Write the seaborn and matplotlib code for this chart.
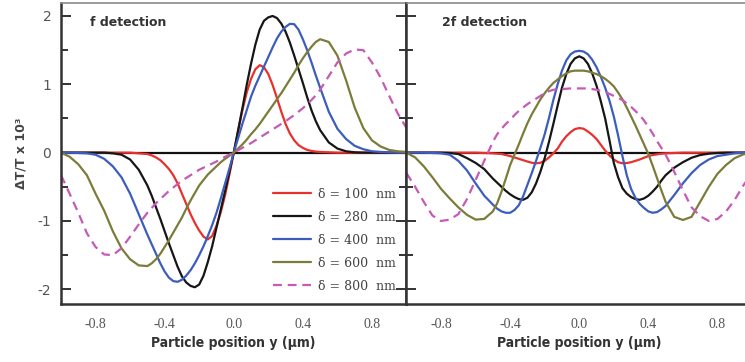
import matplotlib
matplotlib.use("Agg")
import matplotlib.pyplot as plt
from matplotlib.ticker import MultipleLocator, FormatStrFormatter
import pandas as pd
import seaborn as sns

# particle position y (µm): 0.05 steps in the wings, 0.025 steps in the centre
positions = [-1.000, -0.950, -0.900, -0.850, -0.800, -0.750, -0.700, -0.650, -0.600, -0.550,
             -0.500, -0.475, -0.450, -0.425, -0.400, -0.375, -0.350, -0.325, -0.300, -0.275,
             -0.250, -0.225, -0.200, -0.175, -0.150, -0.125, -0.100, -0.075, -0.050, -0.025,
             0.000,
             0.025, 0.050, 0.075, 0.100, 0.125, 0.150, 0.175, 0.200, 0.225, 0.250,
             0.275, 0.300, 0.325, 0.350, 0.375, 0.400, 0.425, 0.450, 0.475, 0.500,
             0.550, 0.600, 0.650, 0.700, 0.750, 0.800, 0.850, 0.900, 0.950, 1.000]

deltas = ["δ = 100  nm", "δ = 280  nm", "δ = 400  nm", "δ = 600  nm", "δ = 800  nm"]
colors = ["#e8302c", "#161616", "#3c5dbd", "#7c7c3a", "#c65ab4"]

# f detection, ΔT/T x 10³
f_100 = [0, 0, 0, 0, 0, 0, 0, 0, 0, -0.01,
         -0.02, -0.04, -0.07, -0.11, -0.17, -0.24, -0.33, -0.45, -0.60, -0.75,
         -0.90, -1.03, -1.14, -1.23, -1.27, -1.22, -1.07, -0.87, -0.62, -0.32,
         0.00,
         0.32, 0.62, 0.88, 1.08, 1.22, 1.28, 1.25, 1.15, 0.99, 0.80,
         0.60, 0.42, 0.28, 0.18, 0.11, 0.07, 0.04, 0.025, 0.015, 0.01,
         0.005, 0, 0, 0, 0, 0, 0, 0, 0, 0]
f_280 = [0, 0, 0, 0, 0, 0, -0.01, -0.03, -0.10, -0.25,
         -0.48, -0.63, -0.80, -0.97, -1.15, -1.33, -1.50, -1.67, -1.81, -1.90,
         -1.95, -1.97, -1.93, -1.80, -1.60, -1.37, -1.10, -0.83, -0.56, -0.28,
         0.00,
         0.32, 0.65, 0.99, 1.30, 1.58, 1.80, 1.93, 1.98, 2.00, 1.97,
         1.89, 1.77, 1.61, 1.42, 1.22, 1.02, 0.81, 0.62, 0.46, 0.33,
         0.15, 0.06, 0.02, 0.005, 0, 0, 0, 0, 0, 0]
f_400 = [0, 0, -0.005, -0.01, -0.03, -0.09, -0.20, -0.36, -0.60, -0.90,
         -1.20, -1.34, -1.48, -1.62, -1.74, -1.83, -1.88, -1.89, -1.86, -1.80,
         -1.72, -1.62, -1.50, -1.37, -1.22, -1.06, -0.88, -0.67, -0.45, -0.23,
         0.00,
         0.21, 0.42, 0.62, 0.82, 0.98, 1.12, 1.26, 1.40, 1.54, 1.67,
         1.77, 1.84, 1.885, 1.88, 1.80, 1.66, 1.50, 1.32, 1.13, 0.95,
         0.60, 0.35, 0.20, 0.10, 0.05, 0.02, 0.01, 0.005, 0, 0]
f_600 = [0, -0.06, -0.17, -0.33, -0.60, -0.85, -1.15, -1.40, -1.56, -1.65,
         -1.66, -1.62, -1.56, -1.48, -1.38, -1.28, -1.17, -1.06, -0.95, -0.82,
         -0.70, -0.59, -0.48, -0.40, -0.32, -0.26, -0.20, -0.14, -0.09, -0.045,
         0.00,
         0.06, 0.12, 0.19, 0.27, 0.34, 0.42, 0.51, 0.60, 0.69, 0.78,
         0.87, 0.97, 1.07, 1.17, 1.28, 1.38, 1.47, 1.55, 1.62, 1.66,
         1.62, 1.42, 1.06, 0.66, 0.36, 0.18, 0.09, 0.04, 0.02, 0.01]
f_800 = [-0.33, -0.60, -0.88, -1.18, -1.38, -1.49, -1.50, -1.40, -1.23, -1.05,
         -0.88, -0.81, -0.74, -0.68, -0.62, -0.56, -0.51, -0.46, -0.41, -0.37,
         -0.33, -0.29, -0.25, -0.22, -0.19, -0.16, -0.13, -0.095, -0.06, -0.03,
         0.00,
         0.035, 0.07, 0.105, 0.14, 0.18, 0.22, 0.26, 0.30, 0.34, 0.38,
         0.42, 0.46, 0.505, 0.55, 0.60, 0.65, 0.71, 0.77, 0.84, 0.92,
         1.12, 1.32, 1.45, 1.51, 1.50, 1.32, 1.10, 0.83, 0.57, 0.36]

# 2f detection, ΔT/T x 10³
f2_100 = [0, 0, 0, 0, 0, 0, 0, 0, 0, -0.005,
          -0.01, -0.015, -0.02, -0.035, -0.05, -0.07, -0.09, -0.11, -0.13, -0.148,
          -0.156, -0.148, -0.12, -0.07, -0.01, 0.06, 0.16, 0.24, 0.30, 0.345,
          0.36,
          0.35, 0.31, 0.26, 0.20, 0.115, 0.03, -0.04, -0.10, -0.14, -0.155,
          -0.152, -0.14, -0.12, -0.10, -0.075, -0.05, -0.035, -0.025, -0.015, -0.01,
          -0.005, 0, 0, 0, 0, 0, 0, 0, 0, 0]
f2_280 = [0, 0, 0, 0, 0, -0.005, -0.02, -0.08, -0.15, -0.24,
          -0.38, -0.44, -0.50, -0.56, -0.61, -0.65, -0.68, -0.69, -0.66, -0.58,
          -0.45, -0.28, -0.08, 0.16, 0.42, 0.69, 0.95, 1.15, 1.30, 1.38,
          1.41,
          1.38, 1.30, 1.16, 0.98, 0.75, 0.50, 0.18, -0.15, -0.36, -0.52,
          -0.60, -0.65, -0.68, -0.69, -0.67, -0.63, -0.57, -0.50, -0.41, -0.33,
          -0.22, -0.14, -0.075, -0.035, -0.015, -0.005, 0, 0, 0, 0]
f2_400 = [0, 0, 0, -0.005, -0.01, -0.03, -0.12, -0.26, -0.45, -0.63,
          -0.76, -0.82, -0.86, -0.88, -0.88, -0.84, -0.77, -0.64, -0.47, -0.30,
          -0.12, 0.07, 0.27, 0.51, 0.77, 1.00, 1.20, 1.35, 1.44, 1.48,
          1.49,
          1.48, 1.44, 1.36, 1.25, 1.11, 0.95, 0.76, 0.53, 0.25, -0.05,
          -0.33, -0.53, -0.66, -0.75, -0.81, -0.86, -0.88, -0.87, -0.83, -0.78,
          -0.62, -0.45, -0.30, -0.18, -0.10, -0.05, -0.03, -0.01, 0, 0]
f2_600 = [0, -0.07, -0.20, -0.36, -0.53, -0.67, -0.80, -0.91, -0.98, -0.97,
          -0.86, -0.74, -0.57, -0.38, -0.18, -0.03, 0.12, 0.28, 0.43, 0.56,
          0.67, 0.78, 0.87, 0.95, 1.02, 1.07, 1.12, 1.16, 1.19, 1.20,
          1.20,
          1.20, 1.19, 1.17, 1.15, 1.12, 1.08, 1.03, 0.97, 0.88, 0.78,
          0.66, 0.53, 0.40, 0.26, 0.12, -0.02, -0.19, -0.37, -0.55, -0.72,
          -0.94, -0.985, -0.94, -0.72, -0.50, -0.31, -0.18, -0.08, -0.025, -0.005]
f2_800 = [-0.30, -0.50, -0.72, -0.92, -1.00, -0.98, -0.90, -0.68, -0.40, -0.12,
          0.16, 0.27, 0.35, 0.42, 0.48, 0.55, 0.61, 0.66, 0.71, 0.75,
          0.79, 0.83, 0.87, 0.90, 0.92, 0.925, 0.93, 0.935, 0.94, 0.94,
          0.94,
          0.94, 0.94, 0.93, 0.92, 0.905, 0.89, 0.86, 0.83, 0.80, 0.77,
          0.72, 0.67, 0.61, 0.55, 0.47, 0.38, 0.28, 0.17, 0.07, -0.03,
          -0.28, -0.55, -0.80, -0.93, -1.00, -0.97, -0.86, -0.69, -0.48, -0.30]

f_series = [f_100, f_280, f_400, f_600, f_800]
f2_series = [f2_100, f2_280, f2_400, f2_600, f2_800]


def long_table(series):
    frames = [pd.DataFrame({"y": positions, "signal": values, "delta": label})
              for label, values in zip(deltas, series)]
    return pd.concat(frames, ignore_index=True)


sns.set_style("white")
plt.rcParams["font.family"] = ["DejaVu Sans"]
plt.rcParams["axes.unicode_minus"] = False

palette = dict(zip(deltas, colors))
dash_map = dict(zip(deltas, ["", "", "", "", (4, 2.6)]))

W, H = 745, 362
fig = plt.figure(figsize=(W / 100, H / 100), dpi=100)
ax_f = fig.add_axes([61 / W, 58 / H, 345.5 / W, 301 / H])
ax_2f = fig.add_axes([406.5 / W, 58 / H, 345.5 / W, 301 / H])

for ax, series in ((ax_f, f_series), (ax_2f, f2_series)):
    ax.axhline(0, color="#111111", lw=1.6, zorder=1)
    sns.lineplot(data=long_table(series), x="y", y="signal", hue="delta",
                 style="delta", palette=palette, dashes=dash_map,
                 linewidth=1.6, estimator=None, sort=True, ax=ax,
                 legend=(ax is ax_f), zorder=2)
    ax.set_xlim(-1, 1)
    ax.set_ylim(-2.215, 2.19)
    ax.xaxis.set_major_locator(MultipleLocator(0.4))
    ax.xaxis.set_minor_locator(MultipleLocator(0.2))
    ax.yaxis.set_major_locator(MultipleLocator(1))
    ax.yaxis.set_minor_locator(MultipleLocator(0.5))
    ax.xaxis.set_major_formatter(FormatStrFormatter("%.1f"))
    ax.yaxis.set_major_formatter(FormatStrFormatter("%d"))
    ax.tick_params(axis="x", which="major", direction="out", length=7, width=1.6,
                   color="#333333", labelcolor="#555555", pad=3, labelsize=10)
    ax.tick_params(axis="x", which="minor", direction="out", length=4, width=1.4,
                   color="#333333")
    for lab in ax.get_xticklabels():
        lab.set_family("Liberation Serif")
    ax.set_xlabel("Particle position y (µm)", fontsize=10, color="#333333",
                  fontweight="semibold", fontstretch="condensed", labelpad=4)
    ax.set_ylabel("")
    for side in ("left", "bottom", "right"):
        ax.spines[side].set_color("#333333")
        ax.spines[side].set_linewidth(1.8)
    ax.spines["top"].set_color("#8a8a8a")
    ax.spines["top"].set_linewidth(1.2)

ax_f.tick_params(axis="y", which="both", direction="in", left=True, right=True,
                 color="#333333", width=1.4, labelcolor="#555555", labelsize=10, pad=7)
ax_f.tick_params(axis="y", which="major", length=7)
ax_f.tick_params(axis="y", which="minor", length=5)
ax_2f.tick_params(axis="y", which="both", direction="in", left=True, right=False,
                  labelleft=False, color="#333333", width=1.4)
ax_2f.tick_params(axis="y", which="major", length=7)
ax_2f.tick_params(axis="y", which="minor", length=5)

ax_f.text(0.084, 0.934, "f detection", transform=ax_f.transAxes, va="center",
          fontsize=9, fontweight="bold", color="#333333")
ax_2f.text(0.103, 0.934, "2f detection", transform=ax_2f.transAxes, va="center",
           fontsize=9, fontweight="bold", color="#333333")
fig.text(21 / W, 1 - 153 / H, "ΔT/T x 10³", rotation=90, ha="center", va="center",
         fontsize=9, fontweight="bold", color="#444444")

handles, labels = ax_f.get_legend_handles_labels()
ax_f.legend(handles, labels, loc="upper left", bbox_to_anchor=(0.615, 0.387),
            frameon=False, borderpad=0, borderaxespad=0, handlelength=3.0,
            handletextpad=0.6, labelspacing=0.8, labelcolor="#444444",
            prop={"family": "DejaVu Serif", "size": 9})

fig.savefig("out.png", dpi=100)
